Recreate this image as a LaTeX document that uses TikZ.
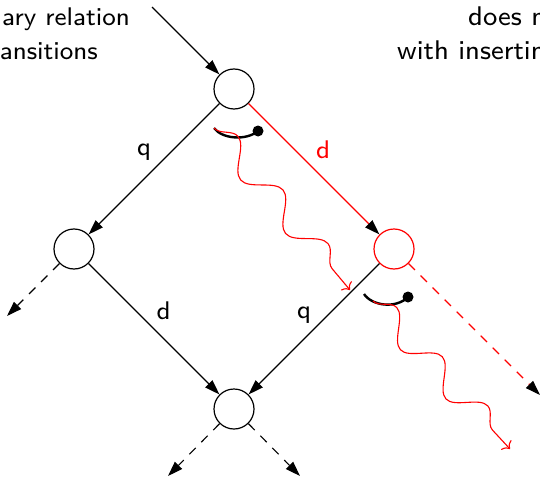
\documentclass[tikz,border=0pt]{standalone}
\usepackage{fontspec}
\newfontfamily\figfont{lmsans8-regular.otf}
\usetikzlibrary{arrows.meta,decorations.pathmorphing}
\begin{document}
\begin{tikzpicture}[x=1pt,y=-1pt,
  state/.style={circle,draw,line width=1.2pt,minimum size=40pt,inner sep=0pt},
  edge/.style={line width=1.1pt,-{Triangle[length=15pt,width=10pt,color=black,fill=black]}},
  dashedge/.style={edge,dash pattern=on 9pt off 8pt},
  lab/.style={font=\figfont\fontsize{25.5}{30}\selectfont,inner sep=0pt,anchor=base},
  rlab/.style={font=\figfont\fontsize{27}{30}\selectfont,inner sep=0pt,anchor=base west},
  wavy/.style={red,line width=1.1pt,decorate,-{To[length=6pt,width=14pt]}},
  hook/.style={line width=2.4pt},
  dotn/.style={circle,fill,inner sep=0pt,minimum size=11pt}]
\useasboundingbox (0,0) rectangle (540,476);
\clip (0,0) rectangle (540,476);
% states
\node[state] (t) at (234,89) {};
\node[state] (l) at (74,249) {};
\node[state,draw=red] (r) at (394,249) {};
\node[state] (b) at (234,409) {};
% free ends
\coordinate (in) at (152,7);
\coordinate (lo) at (7,316);
\coordinate (bl) at (168,476);
\coordinate (br) at (300,476);
\coordinate (ro) at (540,395);
% edges
\draw[edge] (in) -- (t);
\draw[edge] (t) -- (l);
\draw[edge,red] (t) -- (r);
\draw[edge] (l) -- (b);
\draw[edge] (r) -- (b);
\draw[dashedge] (l) -- (lo);
\draw[dashedge] (b) -- (bl);
\draw[dashedge] (b) -- (br);
\draw[dashedge,red] (r) -- (ro);
% labels
\node[lab] (q1) at (144,155) {q};
\node[lab,red] (d1) at (323,158) {d};
\node[lab] (d2) at (163.5,319) {d};
\node[lab] (q2) at (304,318) {q};
% texts
\node[lab,anchor=base east] (tl1) at (130,26) {ary relation};
\node[lab,anchor=base east] (tl2) at (98,60) {ansitions};
\node[rlab] (tr1) at (468,26) {does not};
\node[rlab] (tr2) at (397,60) {with inserting};
% hooks
\coordinate (h1s) at (214,128);
\node[dotn] (h1d) at (258,131) {};
\draw[hook] (h1s) .. controls (222,139) and (246,141) .. (h1d.center);
\coordinate (h2s) at (364,294);
\node[dotn] (h2d) at (408,297) {};
\draw[hook] (h2s) .. controls (372,306) and (396,309) .. (h2d.center);
% wavy arrows
\coordinate (w1s) at (214,128);
\coordinate (w1e) at (350,290);
\draw[wavy,decoration={snake,amplitude=13pt,segment length=70pt}] (w1s) -- (w1e);
\coordinate (w2s) at (373,301);
\coordinate (w2e) at (510,449);
\draw[wavy,decoration={snake,amplitude=13pt,segment length=67pt}] (w2s) -- (w2e);
\end{tikzpicture}
\end{document}
